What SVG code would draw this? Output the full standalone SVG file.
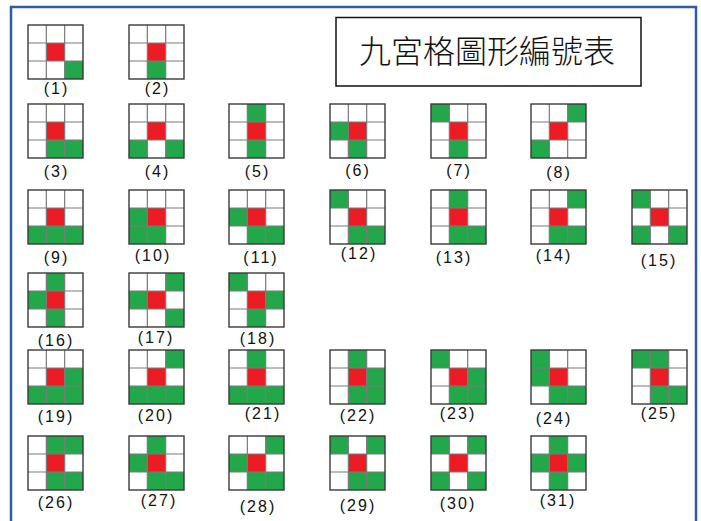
<svg xmlns="http://www.w3.org/2000/svg" xmlns:xlink="http://www.w3.org/1999/xlink" width="701" height="521" viewBox="0 0 701 521">
<style>
.g{fill:#22a84a}
.r{fill:#ec1c24}
.bg{fill:#ffffff}
.ln{fill:none;stroke:#7a7a7a;stroke-width:1.2}
.ol{fill:none;stroke:#3a3a3a;stroke-width:1.4}
.lb{font-family:"Liberation Sans",Arial,sans-serif;font-size:16px;letter-spacing:2px;fill:#111;text-anchor:middle}
.tt{font-family:"Noto Sans CJK TC","Noto Sans CJK JP",sans-serif;font-size:32px;font-weight:300;fill:#111;text-anchor:middle}
</style>
<defs>
<g id="lines">
<path class="ln" d="M18.33 0V54M36.67 0V54M0 18H55M0 36H55"/>
<rect class="ol" x="0" y="0" width="55" height="54"/>
</g>
</defs>
<rect x="0" y="0" width="701" height="521" fill="#ffffff"/>
<rect x="11" y="7" width="685" height="520" fill="none" stroke="#2f5aa8" stroke-width="2.5"/>
<g id="title">
<rect x="336" y="17.5" width="305" height="68.5" fill="#ffffff" stroke="#111" stroke-width="1.5"/>
<text class="tt" x="487" y="63">九宮格圖形編號表</text>
</g>
<g id="n1" transform="translate(28,25)"><rect class="bg" width="55" height="54"/><rect class="r" x="18.33" y="18" width="18.33" height="18"/><rect class="g" x="36.67" y="36" width="18.33" height="18"/><use xlink:href="#lines"/><text class="lb" x="28.5" y="69">(1)</text></g>
<g id="n2" transform="translate(129,25)"><rect class="bg" width="55" height="54"/><rect class="r" x="18.33" y="18" width="18.33" height="18"/><rect class="g" x="18.33" y="36" width="18.33" height="18"/><use xlink:href="#lines"/><text class="lb" x="28.5" y="69">(2)</text></g>
<g id="n3" transform="translate(28,104)"><rect class="bg" width="55" height="54"/><rect class="r" x="18.33" y="18" width="18.33" height="18"/><rect class="g" x="18.33" y="36" width="18.33" height="18"/><rect class="g" x="36.67" y="36" width="18.33" height="18"/><use xlink:href="#lines"/><text class="lb" x="28.5" y="73">(3)</text></g>
<g id="n4" transform="translate(129,104)"><rect class="bg" width="55" height="54"/><rect class="r" x="18.33" y="18" width="18.33" height="18"/><rect class="g" x="0" y="36" width="18.33" height="18"/><rect class="g" x="36.67" y="36" width="18.33" height="18"/><use xlink:href="#lines"/><text class="lb" x="28.5" y="73">(4)</text></g>
<g id="n5" transform="translate(229,104)"><rect class="bg" width="55" height="54"/><rect class="r" x="18.33" y="18" width="18.33" height="18"/><rect class="g" x="18.33" y="0" width="18.33" height="18"/><rect class="g" x="18.33" y="36" width="18.33" height="18"/><use xlink:href="#lines"/><text class="lb" x="28.5" y="73">(5)</text></g>
<g id="n6" transform="translate(330,104)"><rect class="bg" width="55" height="54"/><rect class="r" x="18.33" y="18" width="18.33" height="18"/><rect class="g" x="0" y="18" width="18.33" height="18"/><rect class="g" x="18.33" y="36" width="18.33" height="18"/><use xlink:href="#lines"/><text class="lb" x="28" y="72">(6)</text></g>
<g id="n7" transform="translate(431,104)"><rect class="bg" width="55" height="54"/><rect class="r" x="18.33" y="18" width="18.33" height="18"/><rect class="g" x="0" y="0" width="18.33" height="18"/><rect class="g" x="18.33" y="36" width="18.33" height="18"/><use xlink:href="#lines"/><text class="lb" x="28" y="72">(7)</text></g>
<g id="n8" transform="translate(531,104)"><rect class="bg" width="55" height="54"/><rect class="r" x="18.33" y="18" width="18.33" height="18"/><rect class="g" x="36.67" y="0" width="18.33" height="18"/><rect class="g" x="0" y="36" width="18.33" height="18"/><use xlink:href="#lines"/><text class="lb" x="28" y="74">(8)</text></g>
<g id="n9" transform="translate(28,190)"><rect class="bg" width="55" height="54"/><rect class="r" x="18.33" y="18" width="18.33" height="18"/><rect class="g" x="0" y="36" width="18.33" height="18"/><rect class="g" x="18.33" y="36" width="18.33" height="18"/><rect class="g" x="36.67" y="36" width="18.33" height="18"/><use xlink:href="#lines"/><text class="lb" x="28.5" y="73">(9)</text></g>
<g id="n10" transform="translate(129,190)"><rect class="bg" width="55" height="54"/><rect class="r" x="18.33" y="18" width="18.33" height="18"/><rect class="g" x="0" y="18" width="18.33" height="18"/><rect class="g" x="0" y="36" width="18.33" height="18"/><rect class="g" x="18.33" y="36" width="18.33" height="18"/><use xlink:href="#lines"/><text class="lb" x="24" y="71">(10)</text></g>
<g id="n11" transform="translate(229,190)"><rect class="bg" width="55" height="54"/><rect class="r" x="18.33" y="18" width="18.33" height="18"/><rect class="g" x="0" y="18" width="18.33" height="18"/><rect class="g" x="18.33" y="36" width="18.33" height="18"/><rect class="g" x="36.67" y="36" width="18.33" height="18"/><use xlink:href="#lines"/><text class="lb" x="32" y="73">(11)</text></g>
<g id="n12" transform="translate(330,190)"><rect class="bg" width="55" height="54"/><rect class="r" x="18.33" y="18" width="18.33" height="18"/><rect class="g" x="0" y="0" width="18.33" height="18"/><rect class="g" x="18.33" y="36" width="18.33" height="18"/><rect class="g" x="36.67" y="36" width="18.33" height="18"/><use xlink:href="#lines"/><text class="lb" x="29" y="69">(12)</text></g>
<g id="n13" transform="translate(431,190)"><rect class="bg" width="55" height="54"/><rect class="r" x="18.33" y="18" width="18.33" height="18"/><rect class="g" x="18.33" y="0" width="18.33" height="18"/><rect class="g" x="18.33" y="36" width="18.33" height="18"/><rect class="g" x="36.67" y="36" width="18.33" height="18"/><use xlink:href="#lines"/><text class="lb" x="23" y="73">(13)</text></g>
<g id="n14" transform="translate(531,190)"><rect class="bg" width="55" height="54"/><rect class="r" x="18.33" y="18" width="18.33" height="18"/><rect class="g" x="36.67" y="0" width="18.33" height="18"/><rect class="g" x="18.33" y="36" width="18.33" height="18"/><rect class="g" x="36.67" y="36" width="18.33" height="18"/><use xlink:href="#lines"/><text class="lb" x="23" y="71">(14)</text></g>
<g id="n15" transform="translate(632,190)"><rect class="bg" width="55" height="54"/><rect class="r" x="18.33" y="18" width="18.33" height="18"/><rect class="g" x="0" y="0" width="18.33" height="18"/><rect class="g" x="0" y="36" width="18.33" height="18"/><rect class="g" x="36.67" y="36" width="18.33" height="18"/><use xlink:href="#lines"/><text class="lb" x="27" y="76">(15)</text></g>
<g id="n16" transform="translate(28,273)"><rect class="bg" width="55" height="54"/><rect class="r" x="18.33" y="18" width="18.33" height="18"/><rect class="g" x="18.33" y="0" width="18.33" height="18"/><rect class="g" x="0" y="18" width="18.33" height="18"/><rect class="g" x="18.33" y="36" width="18.33" height="18"/><use xlink:href="#lines"/><text class="lb" x="28" y="73">(16)</text></g>
<g id="n17" transform="translate(129,273)"><rect class="bg" width="55" height="54"/><rect class="r" x="18.33" y="18" width="18.33" height="18"/><rect class="g" x="36.67" y="0" width="18.33" height="18"/><rect class="g" x="0" y="18" width="18.33" height="18"/><rect class="g" x="36.67" y="36" width="18.33" height="18"/><use xlink:href="#lines"/><text class="lb" x="27" y="70">(17)</text></g>
<g id="n18" transform="translate(229,273)"><rect class="bg" width="55" height="54"/><rect class="r" x="18.33" y="18" width="18.33" height="18"/><rect class="g" x="0" y="0" width="18.33" height="18"/><rect class="g" x="36.67" y="18" width="18.33" height="18"/><rect class="g" x="18.33" y="36" width="18.33" height="18"/><use xlink:href="#lines"/><text class="lb" x="29" y="71">(18)</text></g>
<g id="n19" transform="translate(28,350)"><rect class="bg" width="55" height="54"/><rect class="r" x="18.33" y="18" width="18.33" height="18"/><rect class="g" x="36.67" y="18" width="18.33" height="18"/><rect class="g" x="0" y="36" width="18.33" height="18"/><rect class="g" x="18.33" y="36" width="18.33" height="18"/><rect class="g" x="36.67" y="36" width="18.33" height="18"/><use xlink:href="#lines"/><text class="lb" x="28" y="72">(19)</text></g>
<g id="n20" transform="translate(129,350)"><rect class="bg" width="55" height="54"/><rect class="r" x="18.33" y="18" width="18.33" height="18"/><rect class="g" x="36.67" y="0" width="18.33" height="18"/><rect class="g" x="0" y="36" width="18.33" height="18"/><rect class="g" x="18.33" y="36" width="18.33" height="18"/><rect class="g" x="36.67" y="36" width="18.33" height="18"/><use xlink:href="#lines"/><text class="lb" x="27" y="71">(20)</text></g>
<g id="n21" transform="translate(229,350)"><rect class="bg" width="55" height="54"/><rect class="r" x="18.33" y="18" width="18.33" height="18"/><rect class="g" x="18.33" y="0" width="18.33" height="18"/><rect class="g" x="0" y="36" width="18.33" height="18"/><rect class="g" x="18.33" y="36" width="18.33" height="18"/><rect class="g" x="36.67" y="36" width="18.33" height="18"/><use xlink:href="#lines"/><text class="lb" x="34" y="69">(21)</text></g>
<g id="n22" transform="translate(330,350)"><rect class="bg" width="55" height="54"/><rect class="r" x="18.33" y="18" width="18.33" height="18"/><rect class="g" x="18.33" y="0" width="18.33" height="18"/><rect class="g" x="36.67" y="18" width="18.33" height="18"/><rect class="g" x="18.33" y="36" width="18.33" height="18"/><rect class="g" x="36.67" y="36" width="18.33" height="18"/><use xlink:href="#lines"/><text class="lb" x="28" y="71">(22)</text></g>
<g id="n23" transform="translate(431,350)"><rect class="bg" width="55" height="54"/><rect class="r" x="18.33" y="18" width="18.33" height="18"/><rect class="g" x="0" y="0" width="18.33" height="18"/><rect class="g" x="36.67" y="18" width="18.33" height="18"/><rect class="g" x="18.33" y="36" width="18.33" height="18"/><rect class="g" x="36.67" y="36" width="18.33" height="18"/><use xlink:href="#lines"/><text class="lb" x="27" y="69">(23)</text></g>
<g id="n24" transform="translate(531,350)"><rect class="bg" width="55" height="54"/><rect class="r" x="18.33" y="18" width="18.33" height="18"/><rect class="g" x="0" y="0" width="18.33" height="18"/><rect class="g" x="0" y="18" width="18.33" height="18"/><rect class="g" x="18.33" y="36" width="18.33" height="18"/><rect class="g" x="36.67" y="36" width="18.33" height="18"/><use xlink:href="#lines"/><text class="lb" x="23" y="74">(24)</text></g>
<g id="n25" transform="translate(632,350)"><rect class="bg" width="55" height="54"/><rect class="r" x="18.33" y="18" width="18.33" height="18"/><rect class="g" x="0" y="0" width="18.33" height="18"/><rect class="g" x="18.33" y="0" width="18.33" height="18"/><rect class="g" x="18.33" y="36" width="18.33" height="18"/><rect class="g" x="36.67" y="36" width="18.33" height="18"/><use xlink:href="#lines"/><text class="lb" x="27" y="69">(25)</text></g>
<g id="n26" transform="translate(28,436)"><rect class="bg" width="55" height="54"/><rect class="r" x="18.33" y="18" width="18.33" height="18"/><rect class="g" x="18.33" y="0" width="18.33" height="18"/><rect class="g" x="36.67" y="0" width="18.33" height="18"/><rect class="g" x="18.33" y="36" width="18.33" height="18"/><rect class="g" x="36.67" y="36" width="18.33" height="18"/><use xlink:href="#lines"/><text class="lb" x="28" y="72">(26)</text></g>
<g id="n27" transform="translate(129,436)"><rect class="bg" width="55" height="54"/><rect class="r" x="18.33" y="18" width="18.33" height="18"/><rect class="g" x="18.33" y="0" width="18.33" height="18"/><rect class="g" x="0" y="18" width="18.33" height="18"/><rect class="g" x="18.33" y="36" width="18.33" height="18"/><rect class="g" x="36.67" y="36" width="18.33" height="18"/><use xlink:href="#lines"/><text class="lb" x="30" y="70">(27)</text></g>
<g id="n28" transform="translate(229,436)"><rect class="bg" width="55" height="54"/><rect class="r" x="18.33" y="18" width="18.33" height="18"/><rect class="g" x="36.67" y="0" width="18.33" height="18"/><rect class="g" x="0" y="18" width="18.33" height="18"/><rect class="g" x="18.33" y="36" width="18.33" height="18"/><rect class="g" x="36.67" y="36" width="18.33" height="18"/><use xlink:href="#lines"/><text class="lb" x="29" y="76">(28)</text></g>
<g id="n29" transform="translate(330,436)"><rect class="bg" width="55" height="54"/><rect class="r" x="18.33" y="18" width="18.33" height="18"/><rect class="g" x="0" y="0" width="18.33" height="18"/><rect class="g" x="36.67" y="0" width="18.33" height="18"/><rect class="g" x="18.33" y="36" width="18.33" height="18"/><rect class="g" x="36.67" y="36" width="18.33" height="18"/><use xlink:href="#lines"/><text class="lb" x="28" y="75">(29)</text></g>
<g id="n30" transform="translate(431,436)"><rect class="bg" width="55" height="54"/><rect class="r" x="18.33" y="18" width="18.33" height="18"/><rect class="g" x="0" y="0" width="18.33" height="18"/><rect class="g" x="36.67" y="0" width="18.33" height="18"/><rect class="g" x="0" y="36" width="18.33" height="18"/><rect class="g" x="36.67" y="36" width="18.33" height="18"/><use xlink:href="#lines"/><text class="lb" x="27" y="73">(30)</text></g>
<g id="n31" transform="translate(531,436)"><rect class="bg" width="55" height="54"/><rect class="r" x="18.33" y="18" width="18.33" height="18"/><rect class="g" x="18.33" y="0" width="18.33" height="18"/><rect class="g" x="0" y="18" width="18.33" height="18"/><rect class="g" x="36.67" y="18" width="18.33" height="18"/><rect class="g" x="18.33" y="36" width="18.33" height="18"/><use xlink:href="#lines"/><text class="lb" x="27" y="70">(31)</text></g>
<g id="connectors"></g>
</svg>
